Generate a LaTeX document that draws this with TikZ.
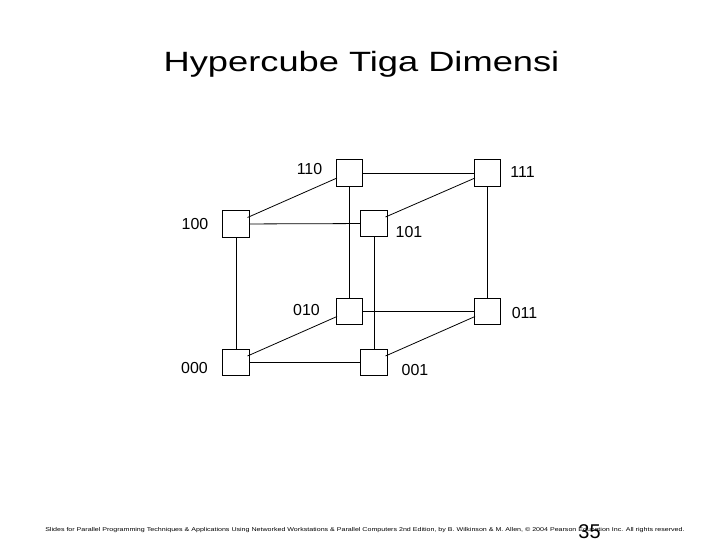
\documentclass[tikz,border=0pt]{standalone}
\usepackage{fontspec}
\setmainfont{Liberation Sans}
\begin{document}
\begin{tikzpicture}[x=1bp,y=-1bp,
  vbox/.style={draw, fill=white, minimum width=26.5bp, minimum height=26.5bp, inner sep=0pt, line width=0.8pt},
  lab/.style={font=\fontsize{16}{18}\selectfont, inner sep=0pt},
  edge/.style={line width=0.8pt}]
\useasboundingbox (0,0) rectangle (720,540);
\node[font=\fontsize{28}{32}\selectfont, inner sep=0pt, anchor=base, xscale=1.3] (title) at (361.5,72) {Hypercube Tiga Dimensi};
% vertices
\coordinate (c100) at (236,224);
\coordinate (c110) at (349.5,173);
\coordinate (c111) at (487.5,173);
\coordinate (c101) at (374,223.5);
\coordinate (c010) at (349.5,311.5);
\coordinate (c011) at (487.5,311.5);
\coordinate (c000) at (236,362.5);
\coordinate (c001) at (374,362.5);
% edges (drawn first, boxes on top)
\draw[edge] (c100) -- (c101);
\draw[edge] (c110) -- (c111);
\draw[edge] (c010) -- (c011);
\draw[edge] (c000) -- (c001);
\draw[edge] (c100) -- (c000);
\draw[edge] (c110) -- (c010);
\draw[edge] (c111) -- (c011);
\draw[edge] (c101) -- (c001);
% boxes
\node[vbox] (n100) at (c100) {};
\node[vbox] (n110) at (c110) {};
\node[vbox] (n111) at (c111) {};
\node[vbox] (n101) at (c101) {};
\node[vbox] (n010) at (c010) {};
\node[vbox] (n011) at (c011) {};
\node[vbox] (n000) at (c000) {};
\node[vbox] (n001) at (c001) {};
% diagonal edges
\draw[edge] ([shift={(11.5,-6.5)}]c100) -- ([shift={(-12.5,5)}]c110);
\draw[edge] ([shift={(11.5,-6.5)}]c101) -- ([shift={(-12.5,5)}]c111);
\draw[edge] ([shift={(11.5,-6.5)}]c000) -- ([shift={(-12.5,5)}]c010);
\draw[edge] ([shift={(11.5,-6.5)}]c001) -- ([shift={(-12.5,5)}]c011);
% labels
\node[lab] (l110) at (309.5,169) {110};
\node[lab] (l111) at (522.5,172) {111};
\node[lab] (l100) at (195,224) {100};
\node[lab] (l101) at (409,232) {101};
\node[lab] (l010) at (306.5,310) {010};
\node[lab] (l011) at (524.5,313) {011};
\node[lab] (l000) at (194.5,368.5) {000};
\node[lab] (l001) at (415,370) {001};
% footer
\node[font=\fontsize{5.6}{6}\selectfont, inner sep=0pt, anchor=base west, xscale=1.27] (foot) at (45,531) {Slides for Parallel Programming Techniques \& Applications Using Networked Workstations \& Parallel Computers 2nd Edition, by B. Wilkinson \& M. Allen, \copyright{} 2004 Pearson Education Inc. All rights reserved.};
\node[font=\fontsize{20}{22}\selectfont, inner sep=0pt, anchor=north] (pg) at (589.5,524) {35};
\end{tikzpicture}
\end{document}
